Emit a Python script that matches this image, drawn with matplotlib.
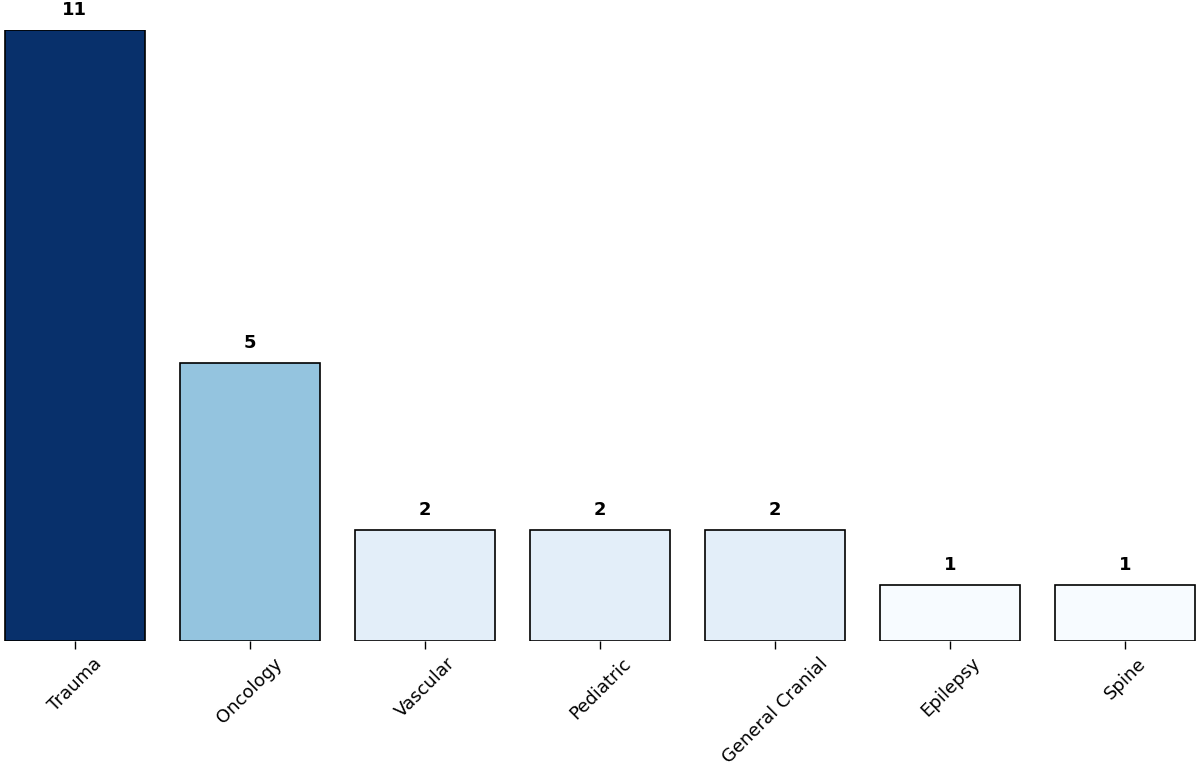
import matplotlib
matplotlib.use("Agg")
import matplotlib.pyplot as plt
from matplotlib import cm, colors

categories = ["Trauma", "Oncology", "Vascular", "Pediatric", "General Cranial", "Epilepsy", "Spine"]
counts = [11, 5, 2, 2, 2, 1, 1]

fig = plt.figure(figsize=(12, 7.67), dpi=100)
ax = fig.add_axes([3/1200, 126/767, 1194/1200, 611/767])

norm = colors.Normalize(vmin=min(counts), vmax=max(counts))
bar_colors = [cm.Blues(norm(v)) for v in counts]

x = list(range(len(categories)))
bars = ax.bar(x, counts, width=0.8, color=bar_colors, edgecolor="black", linewidth=1.2)

for xi, v in zip(x, counts):
    ax.text(xi, v + 0.2, str(v), ha="center", va="bottom", fontsize=13,
            fontweight="bold", clip_on=False)

ax.set_xlim(-0.41, len(categories) - 0.59)
ax.set_ylim(0, max(counts))
ax.set_xticks(x)
ax.set_xticklabels(categories, rotation=45, ha="center", fontsize=13)
ax.set_yticks([])
for s in ax.spines.values():
    s.set_visible(False)
ax.tick_params(axis="x", length=6, width=1)

fig.savefig("out.png", dpi=100)
